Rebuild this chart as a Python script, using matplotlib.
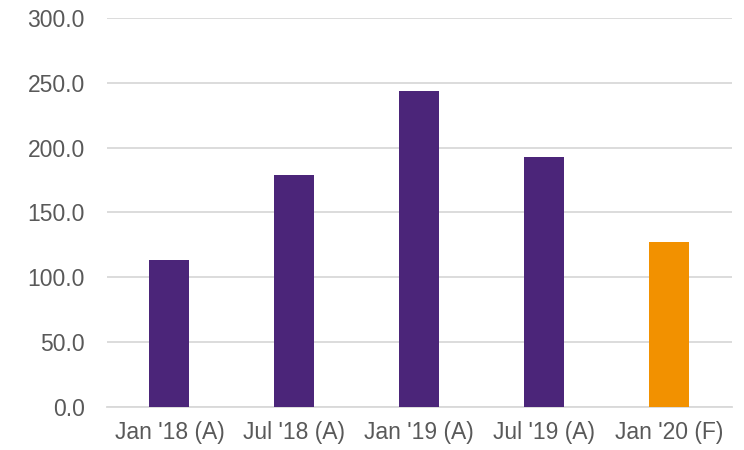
import matplotlib.pyplot as plt

categories = ["Jan '18 (A)", "Jul '18 (A)", "Jan '19 (A)", "Jul '19 (A)", "Jan '20 (F)"]
values = [113.7, 178.6, 243.6, 192.5, 127.6]
colors = ["#4B2579", "#4B2579", "#4B2579", "#4B2579", "#F29100"]
y_ticks = [0, 50, 100, 150, 200, 250, 300]

plt.rcParams['font.family'] = ['Liberation Sans', 'DejaVu Sans']

fig = plt.figure(figsize=(7.44, 4.5), dpi=100)
ax = fig.add_axes([0.1438, 0.0956, 0.8394, 0.8644])

x = range(len(categories))
ax.bar(x, values, width=0.32, color=colors, zorder=3)

ax.set_xlim(-0.5, len(categories) - 0.5)
ax.set_ylim(0, 300)
ax.set_yticks(y_ticks)
ax.set_yticklabels([f"{v:.1f}" for v in y_ticks])
ax.set_xticks(list(x))
ax.set_xticklabels(categories)

ax.grid(axis='y', color='#D9D9D9', linewidth=1.3, zorder=0)
for side in ['top', 'right', 'left']:
    ax.spines[side].set_visible(False)
ax.spines['bottom'].set_color('#D9D9D9')
ax.spines['bottom'].set_linewidth(1.3)
ax.tick_params(axis='both', length=0, labelsize=16.5, colors='#595959')
ax.tick_params(axis='y', pad=16)
ax.tick_params(axis='x', pad=10)

fig.savefig('out.png', dpi=100)
